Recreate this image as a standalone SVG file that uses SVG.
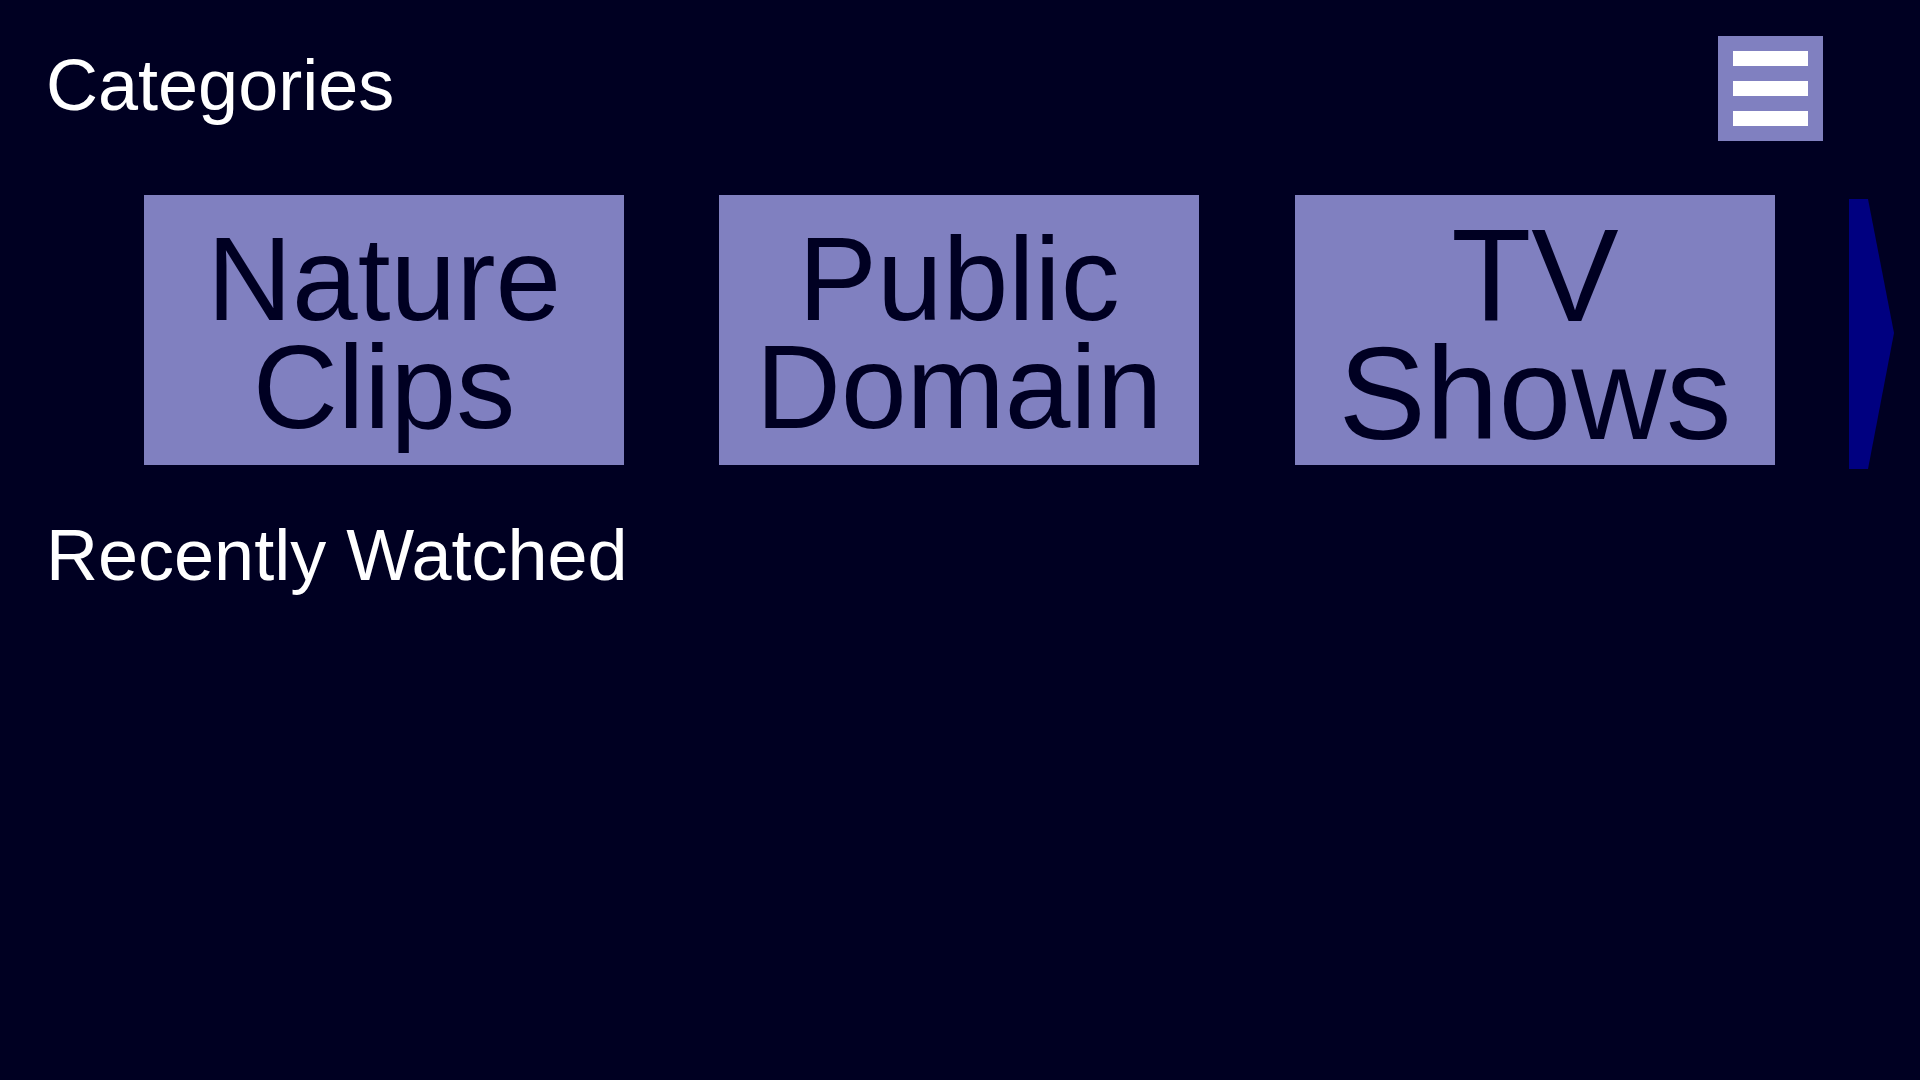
<svg xmlns="http://www.w3.org/2000/svg" width="1920" height="1080" viewBox="0 0 1920 1080">
<style>
.bg{fill:#000022}
.tile{fill:#8080c0}
.tl{font-family:"Liberation Sans",Arial,sans-serif;fill:#000022;text-anchor:middle}
.hd{font-family:"Liberation Sans",Arial,sans-serif;fill:#ffffff;font-size:72px}
.bar{fill:#ffffff}
</style>
<rect class="bg" x="0" y="0" width="1920" height="1080"/>
<text id="categories" class="hd" x="46" y="110">Categories</text>
<g id="menu">
<rect class="tile" x="1718" y="36" width="105" height="105"/>
<rect class="bar" x="1733" y="51" width="75" height="15"/>
<rect class="bar" x="1733" y="81" width="75" height="15"/>
<rect class="bar" x="1733" y="111" width="75" height="15"/>
</g>
<g id="tile-nature">
<rect class="tile" x="144" y="195" width="480" height="270"/>
<text class="tl" font-size="118" x="384" y="320">Nature</text>
<text class="tl" font-size="118" x="384" y="428">Clips</text>
</g>
<g id="tile-public">
<rect class="tile" x="719" y="195" width="480" height="270"/>
<text class="tl" font-size="118" x="959" y="320">Public</text>
<text class="tl" font-size="118" x="959" y="428">Domain</text>
</g>
<g id="tile-tv">
<rect class="tile" x="1295" y="195" width="480" height="270"/>
<text class="tl" font-size="131" x="1535" y="321">TV</text>
<text class="tl" font-size="131" x="1535" y="439">Shows</text>
</g>
<g id="next-arrow">
<polygon fill="#000080" points="1849,199 1868,199 1894,333 1868,469 1849,469"/>
</g>
<text id="recently" class="hd" x="46" y="580">Recently Watched</text>
<g id="connectors"/>
</svg>
